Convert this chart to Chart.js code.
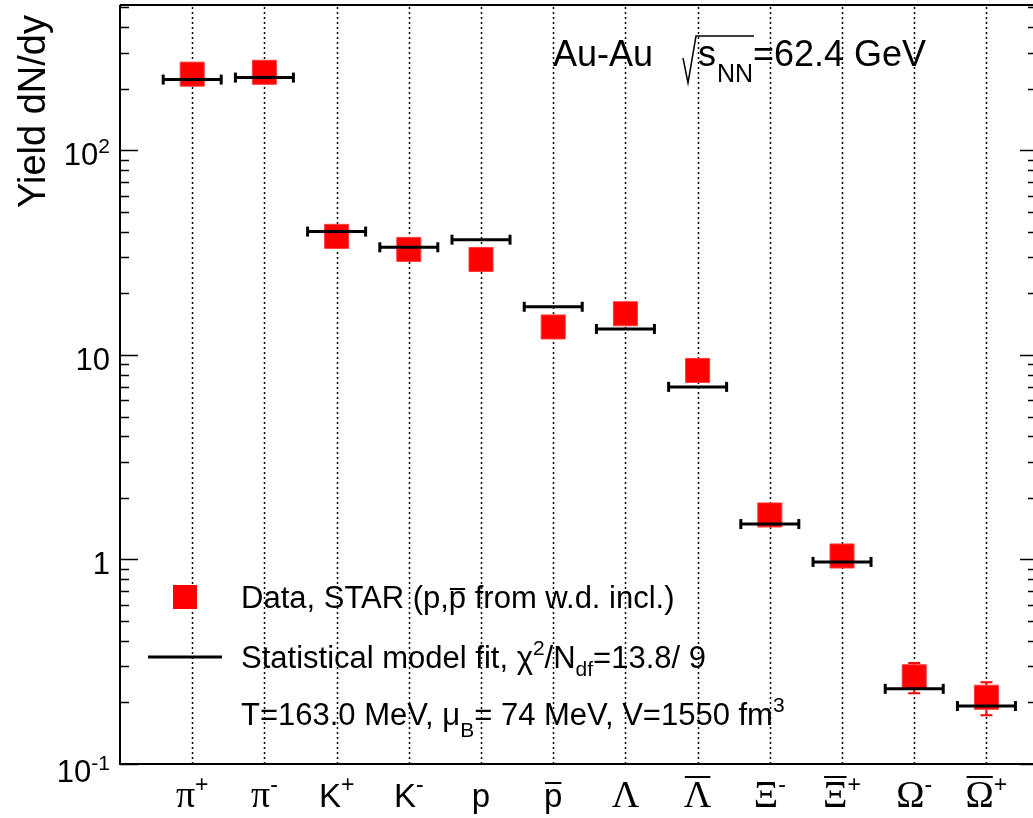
<!DOCTYPE html>
<html>
<head>
<meta charset="utf-8">
<script src="https://cdn.jsdelivr.net/npm/chart.js@4.4.1/dist/chart.umd.min.js"></script>
<style>
  html, body { margin: 0; padding: 0; background: #fff; }
  #wrap { position: relative; width: 1033px; height: 818px; }
</style>
</head>
<body>
<div id="wrap"><canvas id="c"></canvas></div>
<script>
// particle labels: base symbol, superscript charge, antiparticle bar, greek?
const particleBase = ["π", "π", "K", "K", "p", "p", "Λ", "Λ", "Ξ", "Ξ", "Ω", "Ω"];
const particleCharge = ["+", "-", "+", "-", "", "", "", "", "-", "+", "-", "+"];
const particleBar = [false, false, false, false, false, true, false, true, false, true, false, true];

// measured yields (STAR) and their errors
const yieldData = [236, 241, 38.0, 32.8, 29.3, 13.7, 15.9, 8.4, 1.65, 1.04, 0.267, 0.212];
const yieldErr = [12, 12, 2.0, 1.7, 1.5, 0.7, 1.1, 0.5, 0.1, 0.08, 0.045, 0.039];

// statistical model fit values
const modelFit = [222, 227, 40.1, 33.6, 36.6, 17.2, 13.4, 6.98, 1.49, 0.973, 0.233, 0.192];

const yMajorTicks = [0.1, 1, 10, 100];
const yTickLabels = [["10", "-1"], ["1", ""], ["10", ""], ["10", "2"]];

const SANS = "'Liberation Sans', Arial, Helvetica, sans-serif";
const SERIF = "'Liberation Serif', 'Times New Roman', serif";

const xs = particleBase.map((_, i) => i + 1);

// draw a run of text pieces: {t, size, dy, font, bar}
function drawRich(ctx, x, y, segs) {
  let cx = x;
  for (const s of segs) {
    ctx.font = `${s.size}px ${s.font || SANS}`;
    const w = ctx.measureText(s.t).width;
    ctx.fillText(s.t, cx, y + (s.dy || 0));
    if (s.bar) {
      ctx.fillRect(cx + 1, y + (s.dy || 0) - s.bar, w - 2, 2);
    }
    cx += w;
  }
  return cx - x;
}
function richWidth(ctx, segs) {
  let w = 0;
  for (const s of segs) {
    ctx.font = `${s.size}px ${s.font || SANS}`;
    w += ctx.measureText(s.t).width;
  }
  return w;
}

const framePlugin = {
  id: "frame",
  beforeDatasetsDraw(chart) {
    const { ctx, chartArea: a, scales } = chart;
    ctx.save();
    // dotted vertical lines at each particle
    ctx.strokeStyle = "#000";
    ctx.lineWidth = 1.5;
    ctx.setLineDash([2, 3]);
    xs.forEach((v) => {
      const px = Math.round(scales.x.getPixelForValue(v)) + 0.5;
      ctx.beginPath();
      ctx.moveTo(px, a.bottom);
      ctx.lineTo(px, a.top);
      ctx.stroke();
    });
    ctx.setLineDash([]);
    // data error bars
    ctx.strokeStyle = "#ff0000";
    ctx.lineWidth = 2;
    yieldData.forEach((v, i) => {
      const px = scales.x.getPixelForValue(xs[i]);
      const y1 = scales.y.getPixelForValue(v + yieldErr[i]);
      const y2 = scales.y.getPixelForValue(v - yieldErr[i]);
      ctx.beginPath();
      ctx.moveTo(px, y1); ctx.lineTo(px, y2);
      ctx.moveTo(px - 6, y1); ctx.lineTo(px + 6, y1);
      ctx.moveTo(px - 6, y2); ctx.lineTo(px + 6, y2);
      ctx.stroke();
    });
    ctx.restore();
  },
  afterDatasetsDraw(chart) {
    const { ctx, chartArea: a, scales } = chart;
    ctx.save();
    // end caps of model fit lines
    const meta = chart.getDatasetMeta(1);
    ctx.strokeStyle = "#000";
    ctx.lineWidth = 3;
    meta.data.forEach((pt) => {
      [-29, 29].forEach((d) => {
        ctx.beginPath();
        ctx.moveTo(pt.x + d, pt.y - 5);
        ctx.lineTo(pt.x + d, pt.y + 5);
        ctx.stroke();
      });
    });

    // frame
    ctx.lineWidth = 2;
    ctx.strokeStyle = "#000";
    ctx.beginPath();
    ctx.moveTo(a.left, a.top); ctx.lineTo(a.right + 2, a.top);
    ctx.moveTo(a.left, a.top); ctx.lineTo(a.left, a.bottom);
    ctx.moveTo(a.left - 1, a.bottom); ctx.lineTo(a.right + 2, a.bottom);
    ctx.stroke();

    // y ticks (left and right), major + minor
    ctx.lineWidth = 1.5;
    for (let e = -1; e <= 2; e++) {
      for (let m = 1; m <= 9; m++) {
        const v = m * Math.pow(10, e);
        if (v > scales.y.max) continue;
        const py = Math.round(scales.y.getPixelForValue(v)) + 0.5;
        const len = m === 1 ? 18 : 9;
        ctx.beginPath();
        ctx.moveTo(a.left, py); ctx.lineTo(a.left + len, py);
        ctx.moveTo(a.right, py); ctx.lineTo(a.right - (m === 1 ? 13 : 5), py);
        ctx.stroke();
      }
    }

    // y tick labels
    ctx.fillStyle = "#000";
    ctx.textBaseline = "alphabetic";
    yMajorTicks.forEach((v, i) => {
      const py = scales.y.getPixelForValue(v);
      const [b, sup] = yTickLabels[i];
      const segs = [{ t: b, size: 31 }];
      if (sup) segs.push({ t: sup, size: 21, dy: -12 });
      const w = richWidth(ctx, segs);
      drawRich(ctx, 110 - w, py + (v === 0.1 ? 18 : 15), segs);
    });

    // x labels
    xs.forEach((v, i) => {
      const px = scales.x.getPixelForValue(v);
      const greek = /[πΛΞΩ]/.test(particleBase[i]);
      const segs = [{
        t: particleBase[i], size: greek ? 38 : 33, font: greek ? SERIF : SANS,
        bar: particleBar[i] ? (greek ? 31 : 25) : 0
      }];
      if (particleCharge[i]) {
        segs.push({ t: particleCharge[i] === "-" ? "-" : "+", size: 23, dy: -15 });
      }
      const w = richWidth(ctx, segs);
      drawRich(ctx, px - w / 2, 807, segs);
    });

    // y axis title
    ctx.save();
    ctx.translate(45, 15);
    ctx.rotate(-Math.PI / 2);
    ctx.font = `38px ${SANS}`;
    ctx.textAlign = "right";
    ctx.fillText("Yield dN/dy", 0, 0);
    ctx.restore();

    // header: Au-Au  sqrt(s_NN)=62.4 GeV
    ctx.font = `36px ${SANS}`;
    ctx.fillText("Au-Au", 553, 66);
    ctx.lineWidth = 1.5;
    ctx.beginPath();
    ctx.moveTo(683, 58); ctx.lineTo(688, 83); ctx.lineTo(696, 36); ctx.lineTo(754, 36);
    ctx.stroke();
    drawRich(ctx, 698, 66, [{ t: "s", size: 36 }]);
    drawRich(ctx, 717, 82, [{ t: "NN", size: 25 }]);
    drawRich(ctx, 753, 66, [{ t: "=62.4 GeV", size: 36 }]);

    // legend
    ctx.fillStyle = "#ff0000";
    ctx.fillRect(173, 585, 24, 24);
    ctx.strokeStyle = "#000";
    ctx.lineWidth = 3;
    ctx.beginPath();
    ctx.moveTo(148, 657); ctx.lineTo(222, 657);
    ctx.stroke();
    ctx.fillStyle = "#000";
    drawRich(ctx, 241, 608, [
      { t: "Data, STAR (p,", size: 31 },
      { t: "p", size: 31, bar: 20 },
      { t: " from w.d. incl.)", size: 31 }
    ]);
    drawRich(ctx, 241, 668, [
      { t: "Statistical model fit, χ", size: 31 },
      { t: "2", size: 21, dy: -13 },
      { t: "/N", size: 31 },
      { t: "df", size: 21, dy: 8 },
      { t: "=13.8/ 9", size: 31 }
    ]);
    drawRich(ctx, 241, 725, [
      { t: "T=163.0 MeV, μ", size: 31 },
      { t: "B", size: 21, dy: 12 },
      { t: "= 74 MeV, V=1550 fm", size: 31 },
      { t: "3", size: 21, dy: -13 }
    ]);
    ctx.restore();
  }
};

new Chart(document.getElementById("c"), {
  type: "scatter",
  data: {
    datasets: [
      {
        label: "Data, STAR",
        data: xs.map((x, i) => ({ x, y: yieldData[i] })),
        pointStyle: "rect",
        pointRadius: 17,
        pointHoverRadius: 17,
        backgroundColor: "#ff0000",
        borderColor: "#ff3b3b",
        borderWidth: 1,
        order: 1,
      },
      {
        label: "Statistical model fit",
        data: xs.map((x, i) => ({ x, y: modelFit[i] })),
        pointStyle: "line",
        pointRadius: 29,
        pointHoverRadius: 29,
        borderColor: "#000",
        borderWidth: 3,
        order: 0,
      },
    ],
  },
  options: {
    responsive: true,
    maintainAspectRatio: false,
    animation: false,
    layout: { autoPadding: false, padding: { top: 5, left: 0, right: 0, bottom: 0 } },
    plugins: { legend: { display: false }, tooltip: { enabled: false } },
    scales: {
      x: {
        type: "linear",
        min: 0,
        max: 12.645,
        ticks: { display: false },
        grid: { display: false, drawTicks: false },
        border: { display: false },
        afterFit: (s) => { s.height = 54; },
      },
      y: {
        type: "logarithmic",
        min: 0.1,
        max: 514,
        ticks: { display: false },
        grid: { display: false, drawTicks: false },
        border: { display: false },
        afterFit: (s) => { s.width = 120; },
      },
    },
  },
  plugins: [framePlugin],
});
</script>
</body>
</html>
